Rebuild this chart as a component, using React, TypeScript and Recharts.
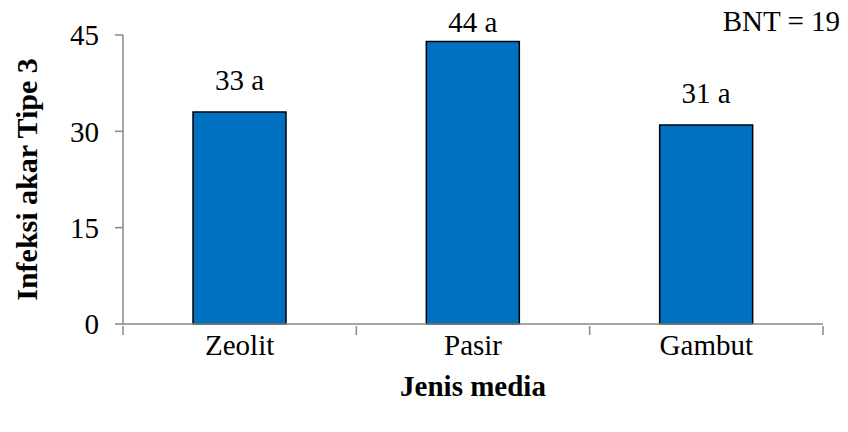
import { BarChart, Bar, XAxis, YAxis, LabelList, Label } from "recharts";

const categories = ["Zeolit", "Pasir", "Gambut"];
const values = [33, 44, 31];
const notations = ["a", "a", "a"];
const yTicks = [0, 15, 30, 45];

const data = categories.map((name, i) => ({
  name,
  value: values[i],
  note: notations[i],
}));

const FONT = "'Liberation Serif', 'Times New Roman', serif";
const AXIS = "#898989";
const FS = 29;

// category ticks sit on the boundaries between groups, like Excel
const CategoryTick = (props: any) => {
  const { x, y, payload, index } = props;
  const half = payload?.offset || 700 / 6;
  return (
    <g>
      <line x1={x - half} y1={y} x2={x - half} y2={y + 9} stroke={AXIS} strokeWidth={1.5} />
      {index === categories.length - 1 && (
        <line x1={x + half} y1={y} x2={x + half} y2={y + 9} stroke={AXIS} strokeWidth={1.5} />
      )}
      <text x={x} y={y + 29} textAnchor="middle" fontFamily={FONT} fontSize={FS} fill="#000">
        {payload.value}
      </text>
    </g>
  );
};

const renderValueLabel = (props: any) => {
  const { x, y, width, value, index } = props;
  const ty = Math.max(y - 22, 32);
  return (
    <text x={x + width / 2} y={ty} textAnchor="middle" fontFamily={FONT} fontSize={FS} fill="#000">
      {`${value} ${notations[index]}`}
    </text>
  );
};

export default function App() {
  return (
    <div style={{ position: "absolute", left: 0, top: 0, background: "#fff" }}>
      <BarChart
        width={848}
        height={432}
        data={data}
        margin={{ top: 35, right: 25, bottom: 58, left: 0 }}
        barCategoryGap="30%"
      >
        <XAxis
          dataKey="name"
          height={50}
          stroke={AXIS}
          strokeWidth={1.5}
          tickLine={false}
          tick={<CategoryTick />}
          tickSize={0}
          interval={0}
        >
          <Label
            value="Jenis media"
            position="bottom"
            offset={1}
            style={{ fontFamily: FONT, fontSize: FS, fontWeight: "bold", fill: "#000" }}
          />
        </XAxis>
        <YAxis
          width={123}
          domain={[0, 45]}
          ticks={yTicks}
          interval={0}
          stroke={AXIS}
          strokeWidth={1.5}
          tickSize={8}
          tick={{ fontFamily: FONT, fontSize: FS, fill: "#000" }}
          tickMargin={16}
        >
          <Label
            value="Infeksi akar Tipe 3"
            angle={-90}
            position="insideLeft"
            offset={26}
            style={{
              fontFamily: FONT,
              fontSize: 30,
              fontWeight: "bold",
              fill: "#000",
              textAnchor: "middle",
            }}
          />
        </YAxis>
        <Bar dataKey="value" fill="#0070C0" stroke="#000" strokeWidth={1.5} isAnimationActive={false}>
          <LabelList dataKey="value" content={renderValueLabel} />
        </Bar>
        <text x={840} y={31} textAnchor="end" fontFamily={FONT} fontSize={FS} fill="#000">
          BNT = 19
        </text>
      </BarChart>
    </div>
  );
}
